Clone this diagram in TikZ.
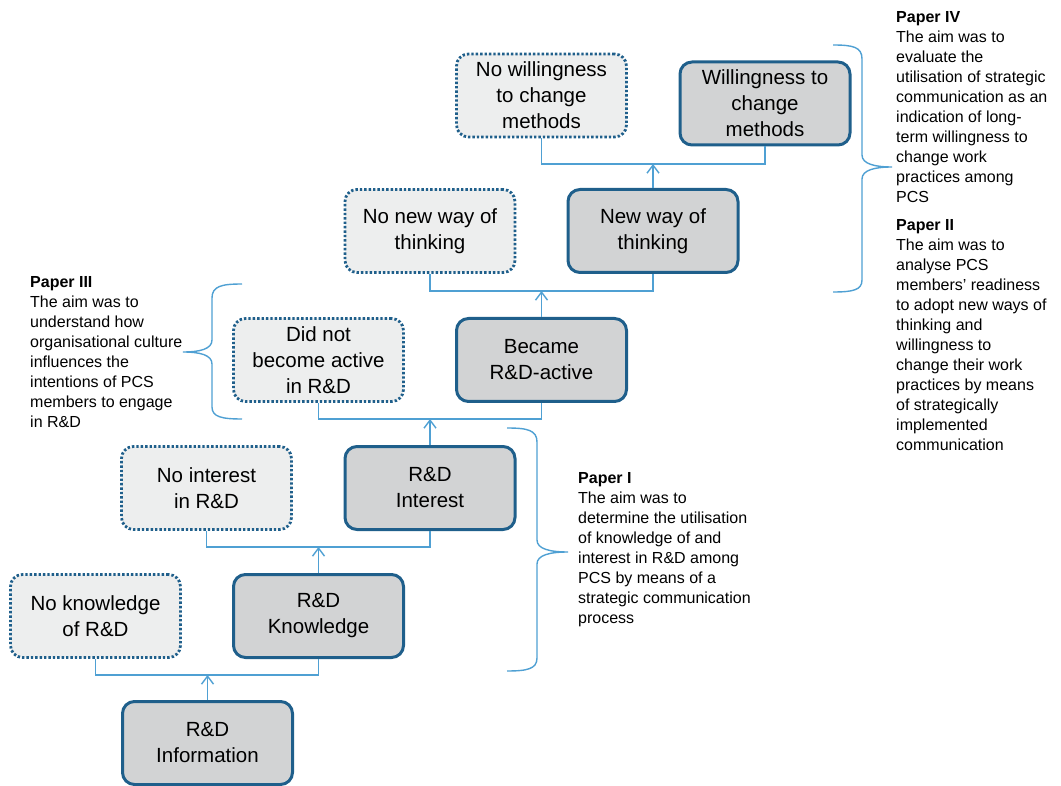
\documentclass[tikz,border=0pt]{standalone}
\usepackage{fontspec}
\setmainfont{Liberation Sans}
\usetikzlibrary{arrows.meta}
\definecolor{boxline}{HTML}{1F5F8B}
\definecolor{solidfill}{HTML}{D2D3D4}
\definecolor{dotfill}{HTML}{EDEEEE}
\definecolor{conn}{HTML}{4FA0D3}
\begin{document}
\begin{tikzpicture}[x=1pt,y=-1pt,
  box/.style={rounded corners=12pt, minimum width=170pt, minimum height=83pt, align=center,
    font=\fontsize{20.5}{26}\selectfont, inner sep=2pt, line width=3pt, draw=boxline},
  yesbox/.style={box, fill=solidfill},
  nobox/.style={box, fill=dotfill, line width=2.8pt, dash pattern=on 2.4pt off 2pt},
  link/.style={draw=conn, line width=1.4pt},
  uparrow/.style={link, -{Straight Barb[length=8pt,width=12pt,line width=1.4pt]}},
  brace/.style={draw=conn, line width=1.4pt},
  paper/.style={anchor=north west, inner sep=0pt, align=left, font=\fontsize{16}{20}\selectfont}
]
\useasboundingbox (0,0) rectangle (1061,786);

% boxes
\node[yesbox] (info) at (207.5,743) {R\&D\\Information};
\node[nobox] (noknow) at (95.5,616) {No knowledge\\of R\&D};
\node[yesbox] (know) at (318.5,616) {R\&D\\Knowledge};
\node[nobox] (nointerest) at (206.5,488) {No interest\\in R\&D};
\node[yesbox] (interest) at (430,488) {R\&D\\Interest};
\node[nobox] (notactive) at (318.5,360) {Did not\\become active\\in R\&D};
\node[yesbox] (active) at (541.5,360) {Became\\R\&D-active};
\node[nobox] (nonew) at (430,231) {No new way of\\thinking};
\node[yesbox] (newway) at (653,231) {New way of\\thinking};
\node[nobox] (nowill) at (541.5,95.5) {No willingness\\to change\\methods};
\node[yesbox] (will) at (765,103.5) {Willingness to\\change\\methods};

% junctions
\coordinate (j1) at (207.5,675);
\coordinate (j2) at (318.5,547);
\coordinate (j3) at (430,419);
\coordinate (j4) at (541.5,291);
\coordinate (j5) at (653,164);

% connectors
\draw[link] (noknow.south) |- (j1) -| (know.south);
\draw[uparrow] (info.north) -- (j1);
\draw[link] (nointerest.south) |- (j2) -| (interest.south);
\draw[uparrow] (know.north) -- (j2);
\draw[link] (notactive.south) |- (j3) -| (active.south);
\draw[uparrow] (interest.north) -- (j3);
\draw[link] (nonew.south) |- (j4) -| (newway.south);
\draw[uparrow] (active.north) -- (j4);
\draw[link] (nowill.south) |- (j5) -| (will.south);
\draw[uparrow] (newway.north) -- (j5);

% braces
\draw[brace] (242,284) .. controls (222,284) and (212,286) .. (212,298) -- (212,340)
  .. controls (212,349) and (200,352) .. (183,352)
  .. controls (200,352) and (212,355) .. (212,364) -- (212,407)
  .. controls (212,417) and (222,419) .. (242,419);
\draw[brace] (507,428) .. controls (527,428) and (537,430) .. (537,442) -- (537,540)
  .. controls (537,549) and (550,552) .. (568,552)
  .. controls (550,552) and (537,555) .. (537,564) -- (537,658)
  .. controls (537,669) and (527,671) .. (507,671);
\draw[brace] (833,45) .. controls (853,45) and (862,47) .. (862,59) -- (862,155)
  .. controls (862,164) and (875,167) .. (892,167)
  .. controls (875,167) and (862,170) .. (862,179) -- (862,280)
  .. controls (862,290) and (853,292) .. (833,292);

% texts
\node[paper] (p3) at (30,273) {\rule{0pt}{14pt}\textbf{Paper III}\\The aim was to\\understand how\\organisational culture\\influences the\\intentions of PCS\\members to engage\\in R\&D};
\node[paper] (p1) at (578,469) {\rule{0pt}{14pt}\textbf{Paper I}\\The aim was to\\determine the utilisation\\of knowledge of and\\interest in R\&D among\\PCS by means of a\\strategic communication\\process};
\node[paper] (p4) at (896,8) {\rule{0pt}{14pt}\textbf{Paper IV}\\The aim was to\\evaluate the\\utilisation of strategic\\communication as an\\indication of long-\\term willingness to\\change work\\practices among\\PCS};
\node[paper] (p2) at (896,216) {\rule{0pt}{14pt}\textbf{Paper II}\\The aim was to\\analyse PCS\\members' readiness\\to adopt new ways of\\thinking and\\willingness to\\change their work\\practices by means\\of strategically\\implemented\\communication};
\end{tikzpicture}
\end{document}
